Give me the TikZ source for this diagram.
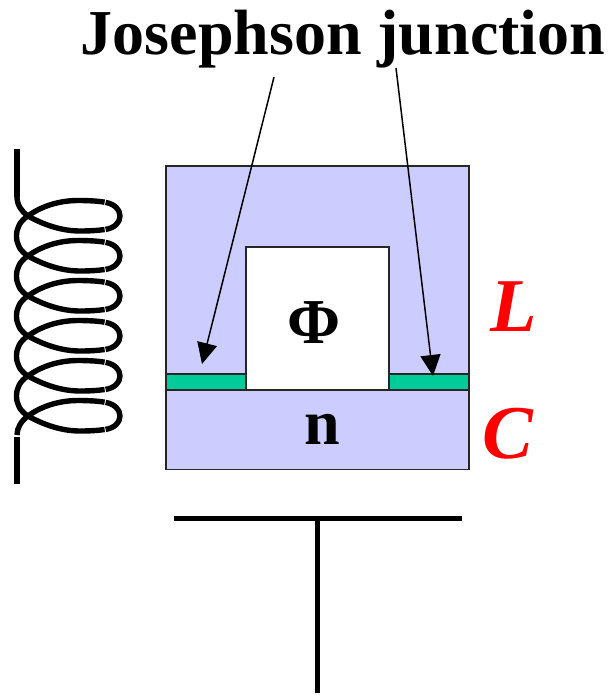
\documentclass[tikz,border=0pt]{standalone}
\usepackage{fontspec}
\setmainfont{Liberation Serif}
\usetikzlibrary{arrows.meta}
\definecolor{metal}{HTML}{CCCCFF}
\definecolor{barrier}{HTML}{00CC99}
\tikzset{
  metalbox/.style={draw=black!85,line width=1.6pt,fill=metal},
  barrierbox/.style={draw=black!85,line width=1.6pt,fill=barrier},
  coilwire/.style={line width=5.4pt,line cap=butt,line join=round},
  lead/.style={line width=5.4pt},
  plate/.style={line width=5pt},
  pointer/.style={line width=1.5pt,-{Triangle[length=21pt,width=20pt]}},
  mainlabel/.style={font=\fontsize{64}{64}\selectfont\bfseries,inner sep=0pt},
  redlabel/.style={font=\fontsize{76}{76}\selectfont\bfseries\itshape,text=red,inner sep=0pt}
}
\begin{document}
\begin{tikzpicture}[x=1pt,y=-1pt]
\useasboundingbox (0,0) rectangle (609,695);
% chip
\draw[metalbox] (166,166) rectangle (469,469.5);
\fill[white] (246,247) rectangle (389,390);
\draw[line width=1.6pt,black!85] (246,374) -- (246,247) -- (389,247) -- (389,374);
\draw[barrierbox] (166,374) rectangle (246,390);
\draw[barrierbox] (389,374) rectangle (469,390);
\draw[line width=1.6pt,black!85] (246,390) -- (389,390);
% labels
\node[mainlabel] (Title) at (343,39) {Josephson junction};
\node[mainlabel] (Flux) at (314,323) {Φ};
\node[mainlabel] (Island) at (322,429) {n};
\node[redlabel] (Ind) at (514,307) {L};
\node[redlabel] (Cap) at (508,434) {C};
\coordinate (Jleft) at (202,364);
\coordinate (Jright) at (433,376);
\coordinate (Tleft) at (274,77);
\coordinate (Tright) at (396,68);
\path[pointer]
(Tleft) edge (Jleft)
(Tright) edge (Jright);
% gate
\coordinate (G0) at (174,518);
\coordinate (G1) at (462,518);
\coordinate (G2) at (317.5,518);
\coordinate (G3) at (317.5,693);
\path[plate]
(G0) edge (G1)
(G2) edge (G3);
% coil
\draw[lead] (17,149) -- (17,197);
\draw[coilwire] (17,197) .. controls (17,205) and (22,212) .. (28,216);
\foreach \y in {216,256,296,336,376,416} {
  \draw[coilwire] (28,\y) .. controls (44,\y+9) and (62,\y+15) .. (80,\y+15)
    .. controls (90,\y+15) and (98,\y+14.5) .. (104.6,\y+13.5);
  \draw[coilwire] (105.6,\y+13.4) .. controls (114,\y+12) and (120,\y+7) .. (120,\y)
    .. controls (120,\y-7) and (114,\y-12) .. (105.6,\y-13.6);
  \draw[coilwire] (104.6,\y-13.8) .. controls (98,\y-15) and (88,\y-15.5) .. (78,\y-15.5)
    .. controls (58,\y-15.5) and (40,\y-9) .. (28,\y);
}
\foreach \y in {216,256,296,336,376} {
  \draw[coilwire] (28,\y) .. controls (20,\y+5) and (16.5,\y+12) .. (16.5,\y+20)
    .. controls (16.5,\y+28) and (20,\y+35) .. (28,\y+40);
}
\draw[coilwire] (28,416) .. controls (21,421) and (17,428) .. (17,435);
\draw[lead] (17,437) -- (17,484);
\end{tikzpicture}
\end{document}
